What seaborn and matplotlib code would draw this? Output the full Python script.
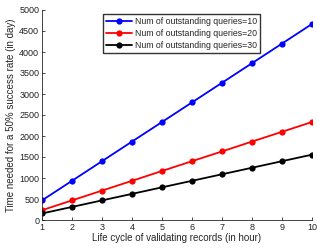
import pandas as pd
import matplotlib.pyplot as plt
import seaborn as sns

# data
life_cycle = [1, 2, 3, 4, 5, 6, 7, 8, 9, 10]
queries_10 = [467, 933, 1400, 1867, 2333, 2800, 3267, 3733, 4200, 4667]
queries_20 = [233, 467, 700, 933, 1167, 1400, 1633, 1867, 2100, 2333]
queries_30 = [156, 311, 467, 622, 778, 933, 1089, 1244, 1400, 1556]

labels = ["Num of outstanding queries=10",
          "Num of outstanding queries=20",
          "Num of outstanding queries=30"]
colors = ["#0000ff", "#ff0000", "#000000"]

df = pd.DataFrame({
    "x": life_cycle * 3,
    "y": queries_10 + queries_20 + queries_30,
    "series": [labels[0]] * 10 + [labels[1]] * 10 + [labels[2]] * 10,
})

sns.set_style("ticks")
plt.rcParams["font.family"] = ["Liberation Sans", "DejaVu Sans"]

fig = plt.figure(figsize=(3.17, 2.49), dpi=100)
ax = fig.add_axes([42 / 317, 29 / 249, 270 / 317, 210 / 249])

sns.lineplot(data=df, x="x", y="y", hue="series", palette=colors,
             marker="o", markersize=4.5, markeredgewidth=0, linewidth=1.3, ax=ax)

ax.set_xlim(1, 10)
ax.set_ylim(0, 5000)
ax.set_xticks(life_cycle)
ax.set_yticks(range(0, 5001, 500))
ax.tick_params(labelsize=6.5, length=2, width=0.6, direction="in", pad=2,
               labelcolor="#222222")
for s in ["left", "bottom"]:
    ax.spines[s].set_linewidth(0.6)
sns.despine(ax=ax)

ax.set_xlabel("Life cycle of validating records (in hour)", fontsize=7, labelpad=1)
ax.set_ylabel("Time needed for a 50% success rate (in day)", fontsize=7, labelpad=2)

leg = ax.legend(loc="upper left", bbox_to_anchor=(0.21, 1.0), fontsize=6.3,
                frameon=True, fancybox=False, edgecolor="black",
                handlelength=3.0, borderpad=0.35, labelspacing=0.3,
                handletextpad=0.3)
leg.get_frame().set_linewidth(1.0)

fig.savefig("out.png", dpi=100)
